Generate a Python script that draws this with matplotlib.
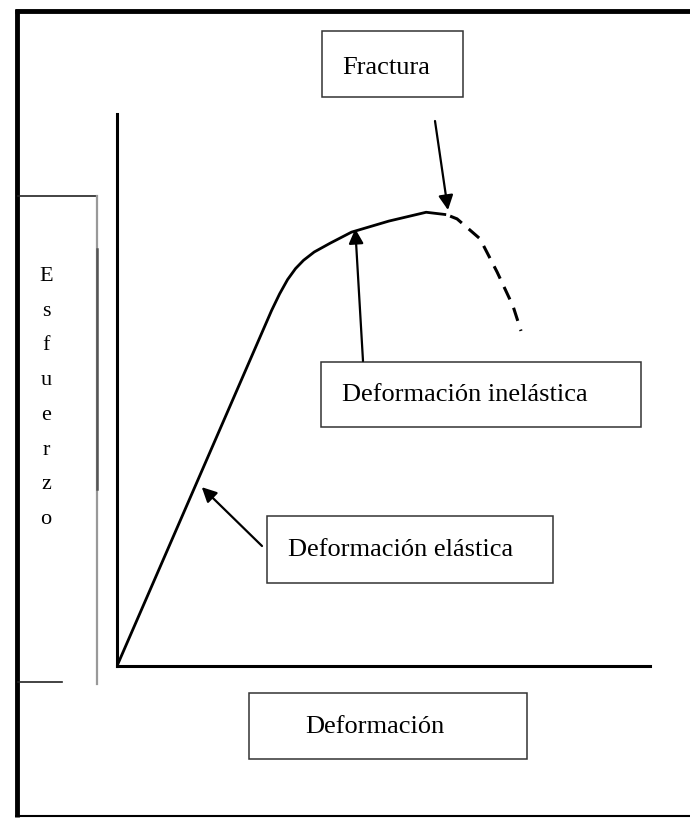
"""
Curva esfuerzo-deformacion (diagrama escaneado)
"""

import matplotlib
matplotlib.use('Agg')
import matplotlib.pyplot as plt
from matplotlib.patches import Rectangle

# Curva solida (zona elastica + inelastica), unidades relativas
strain = [0.0, 0.29, 0.305, 0.32, 0.335, 0.35, 0.37, 0.40, 0.44, 0.51, 0.58, 0.615]
stress = [0.0, 0.644, 0.674, 0.700, 0.720, 0.735, 0.750, 0.766, 0.786, 0.806, 0.822, 0.818]

# Tramo discontinuo despues de la fractura
strain_frac = [0.625, 0.638, 0.681, 0.713, 0.743, 0.758]
stress_frac = [0.815, 0.810, 0.774, 0.714, 0.652, 0.607]

# Puntos senalados por las flechas
fractura_pt = (0.621, 0.826)
inelastica_pt = (0.447, 0.792)
elastica_pt = (0.159, 0.324)

y_label = "Esfuerzo"
x_label = "Deformación"

plt.rcParams['font.family'] = ['Liberation Serif', 'DejaVu Serif']

fig = plt.figure(figsize=(6.9, 8.2), dpi=100)

# Capa de fondo en pixeles para marcos y cajas
bg = fig.add_axes([0, 0, 1, 1])
bg.set_xlim(0, 690)
bg.set_ylim(820, 0)
bg.axis('off')

# Marco exterior
bg.plot([17, 17], [10, 818], color='black', lw=3.5, solid_capstyle='butt')
bg.plot([15, 690], [12, 12], color='black', lw=3.5, solid_capstyle='butt')
bg.plot([15, 690], [817, 817], color='black', lw=1.5, solid_capstyle='butt')

# Caja del eje Y
bg.plot([18, 97], [197, 197], color='#222222', lw=1.2)
bg.plot([97, 97], [197, 685], color='#999999', lw=1.6)
bg.plot([97, 97], [250, 490], color='#555555', lw=1.8)
bg.plot([18, 62], [683, 683], color='#222222', lw=1.2)
bg.text(46, 398, "\n".join(list(y_label)), ha='center', va='center',
        fontsize=16, linespacing=2.12)

# Cajas de texto
boxes = [
    ((322, 32), 141, 66, "Fractura", (386, 68)),
    ((321, 363), 320, 65, "Deformación inelástica", (465, 395)),
    ((267, 517), 286, 67, "Deformación elástica", (401, 550)),
    ((249, 694), 278, 66, x_label, (375, 727)),
]
for (x0, y0), w, h, label, (tx, ty) in boxes:
    bg.add_patch(Rectangle((x0, y0), w, h, fill=False, edgecolor='#333333', lw=1.1))
    bg.text(tx, ty, label, ha='center', va='center', fontsize=19)

# Ejes de la curva
ax = fig.add_axes([117 / 690, (820 - 667) / 820, 533 / 690, 552 / 820])
ax.patch.set_alpha(0)
ax.set_xlim(0, 1)
ax.set_ylim(0, 1)
for side in ['top', 'right']:
    ax.spines[side].set_visible(False)
ax.spines['left'].set_linewidth(2.2)
ax.spines['bottom'].set_linewidth(2.2)
ax.set_xticks([])
ax.set_yticks([])

ax.plot(strain, stress, color='black', lw=2.0, solid_joinstyle='round')
ax.plot(strain_frac, stress_frac, color='black', lw=2.2, linestyle=(0, (4.5, 3)))

arrow = dict(arrowstyle='-|>', color='black', lw=1.6, mutation_scale=22,
             shrinkA=0, shrinkB=0)
ax.annotate('', xy=fractura_pt, xytext=(435, 122), textcoords=bg.transData,
            arrowprops=arrow)
ax.annotate('', xy=inelastica_pt, xytext=(363, 362), textcoords=bg.transData,
            arrowprops=arrow)
ax.annotate('', xy=elastica_pt, xytext=(262, 547), textcoords=bg.transData,
            arrowprops=arrow)

plt.savefig('out.png', dpi=100)
